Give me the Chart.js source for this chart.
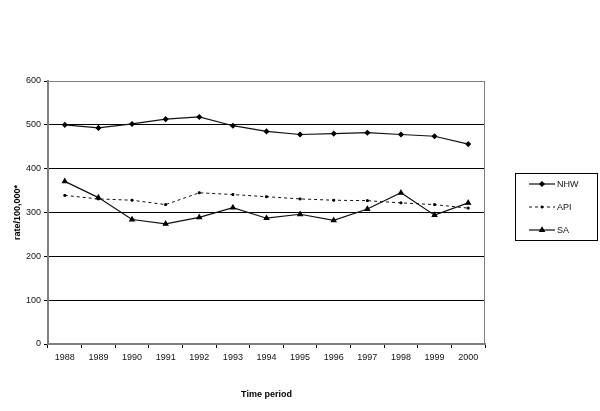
<!DOCTYPE html>
<html>
<head>
<meta charset="utf-8">
<script src="https://cdn.jsdelivr.net/npm/chart.js@4/dist/chart.umd.min.js"></script>
<style>
  html, body { margin: 0; padding: 0; background: #fff; }
  #wrap { width: 600px; height: 411px; }
</style>
</head>
<body>
<div id="wrap"><canvas id="lineChart"></canvas></div>
<script>
// data
var years = ['1988', '1989', '1990', '1991', '1992', '1993', '1994', '1995', '1996', '1997', '1998', '1999', '2000'];
var nhw = [500, 493, 502, 513, 518, 498, 485, 478, 480, 482, 478, 474, 456];
var api = [339, 331, 328, 318, 345, 341, 336, 331, 328, 327, 322, 318, 310];
var sa  = [371, 334, 284, 274, 289, 311, 287, 296, 282, 308, 345, 294, 322];
var yMin = 0, yMax = 600, yStep = 100;

var fontFamily = "Arial, 'Liberation Sans', sans-serif";

// plot frame (right + top edge) in grey like the original
var framePlugin = {
  id: 'frame',
  afterDatasetsDraw: function(chart) {
    var a = chart.chartArea, c = chart.ctx;
    c.save();
    c.strokeStyle = '#808080';
    c.lineWidth = 1;
    c.beginPath();
    c.moveTo(a.left, a.top + 0.5);
    c.lineTo(a.right - 0.5, a.top + 0.5);
    c.lineTo(a.right - 0.5, a.bottom);
    c.stroke();
    c.restore();
  }
};

// boxed legend on the right, line + marker for each series
var boxLegend = {
  id: 'boxLegend',
  afterDraw: function(chart) {
    var c = chart.ctx;
    var bx = 515, by = 173, bw = 83, bh = 68;
    c.save();
    c.fillStyle = '#fff';
    c.fillRect(bx, by, bw, bh);
    c.strokeStyle = '#000';
    c.lineWidth = 1;
    c.strokeRect(bx + 0.5, by + 0.5, bw - 1, bh - 1);
    chart.data.datasets.forEach(function(ds, i) {
      var y = 184 + i * 23;
      c.strokeStyle = ds.borderColor;
      c.lineWidth = ds.borderWidth;
      c.setLineDash(ds.borderDash || []);
      c.beginPath();
      c.moveTo(529, y);
      c.lineTo(555, y);
      c.stroke();
      c.setLineDash([]);
      c.fillStyle = ds.pointBackgroundColor;
      c.strokeStyle = ds.pointBorderColor;
      Chart.helpers.drawPoint(c, {
        pointStyle: ds.pointStyle, radius: ds.pointRadius, rotation: 0, borderWidth: 1
      }, 542, y);
      c.fillStyle = '#111';
      c.font = '9px ' + fontFamily;
      c.textBaseline = 'middle';
      c.textAlign = 'left';
      c.fillText(ds.label, 557, y + 0.5);
    });
    c.restore();
  }
};

var ctx = document.getElementById('lineChart');

var myLineChart = new Chart(ctx, {
  type: 'line',
  data: {
    labels: years,
    datasets: [
      {
        label: 'NHW',
        data: nhw,
        borderColor: '#111',
        borderWidth: 1.2,
        pointStyle: 'rectRot',
        pointRadius: 2.2,
        pointBackgroundColor: '#000',
        pointBorderColor: '#000',
        tension: 0
      },
      {
        label: 'API',
        data: api,
        borderColor: '#111',
        borderWidth: 1,
        borderDash: [3, 3],
        pointStyle: 'rect',
        pointRadius: 1.3,
        pointBackgroundColor: '#000',
        pointBorderColor: '#000',
        tension: 0
      },
      {
        label: 'SA',
        data: sa,
        borderColor: '#111',
        borderWidth: 1.2,
        pointStyle: 'triangle',
        pointRadius: 2.6,
        pointBackgroundColor: '#000',
        pointBorderColor: '#000',
        tension: 0
      }
    ]
  },
  options: {
    responsive: true,
    maintainAspectRatio: false,
    animation: false,
    layout: { padding: { top: 81, right: 115, left: 0, bottom: 0 } },
    plugins: {
      legend: { display: false },
      tooltip: { enabled: false }
    },
    scales: {
      x: {
        offset: true,
        grid: {
          offset: true,
          drawOnChartArea: false,
          drawTicks: true,
          tickLength: 4,
          tickColor: '#000'
        },
        border: { color: '#808080', width: 2 },
        ticks: {
          color: '#111',
          font: { family: fontFamily, size: 9 },
          padding: 4,
          maxRotation: 0,
          autoSkip: false
        },
        title: {
          display: true,
          text: 'Time period',
          color: '#000',
          font: { family: fontFamily, size: 9, weight: 'bold' },
          padding: { top: 0, bottom: 11 }
        },
        afterFit: function(scale) { scale.height = 67; }
      },
      y: {
        min: yMin,
        max: yMax,
        grid: {
          color: function(c) { return c.tick && c.tick.value === yMax ? '#808080' : '#000'; },
          lineWidth: 1,
          drawTicks: true,
          tickLength: 4,
          tickColor: '#000'
        },
        border: { color: '#808080', width: 2 },
        ticks: {
          stepSize: yStep,
          color: '#111',
          font: { family: fontFamily, size: 9 },
          padding: 3
        },
        title: {
          display: true,
          text: 'rate/100,000*',
          color: '#000',
          font: { family: fontFamily, size: 9, weight: 'bold' },
          padding: { top: 12, bottom: 0 }
        },
        afterFit: function(scale) { scale.width = 48; }
      }
    }
  },
  plugins: [framePlugin, boxLegend]
});
</script>
</body>
</html>
